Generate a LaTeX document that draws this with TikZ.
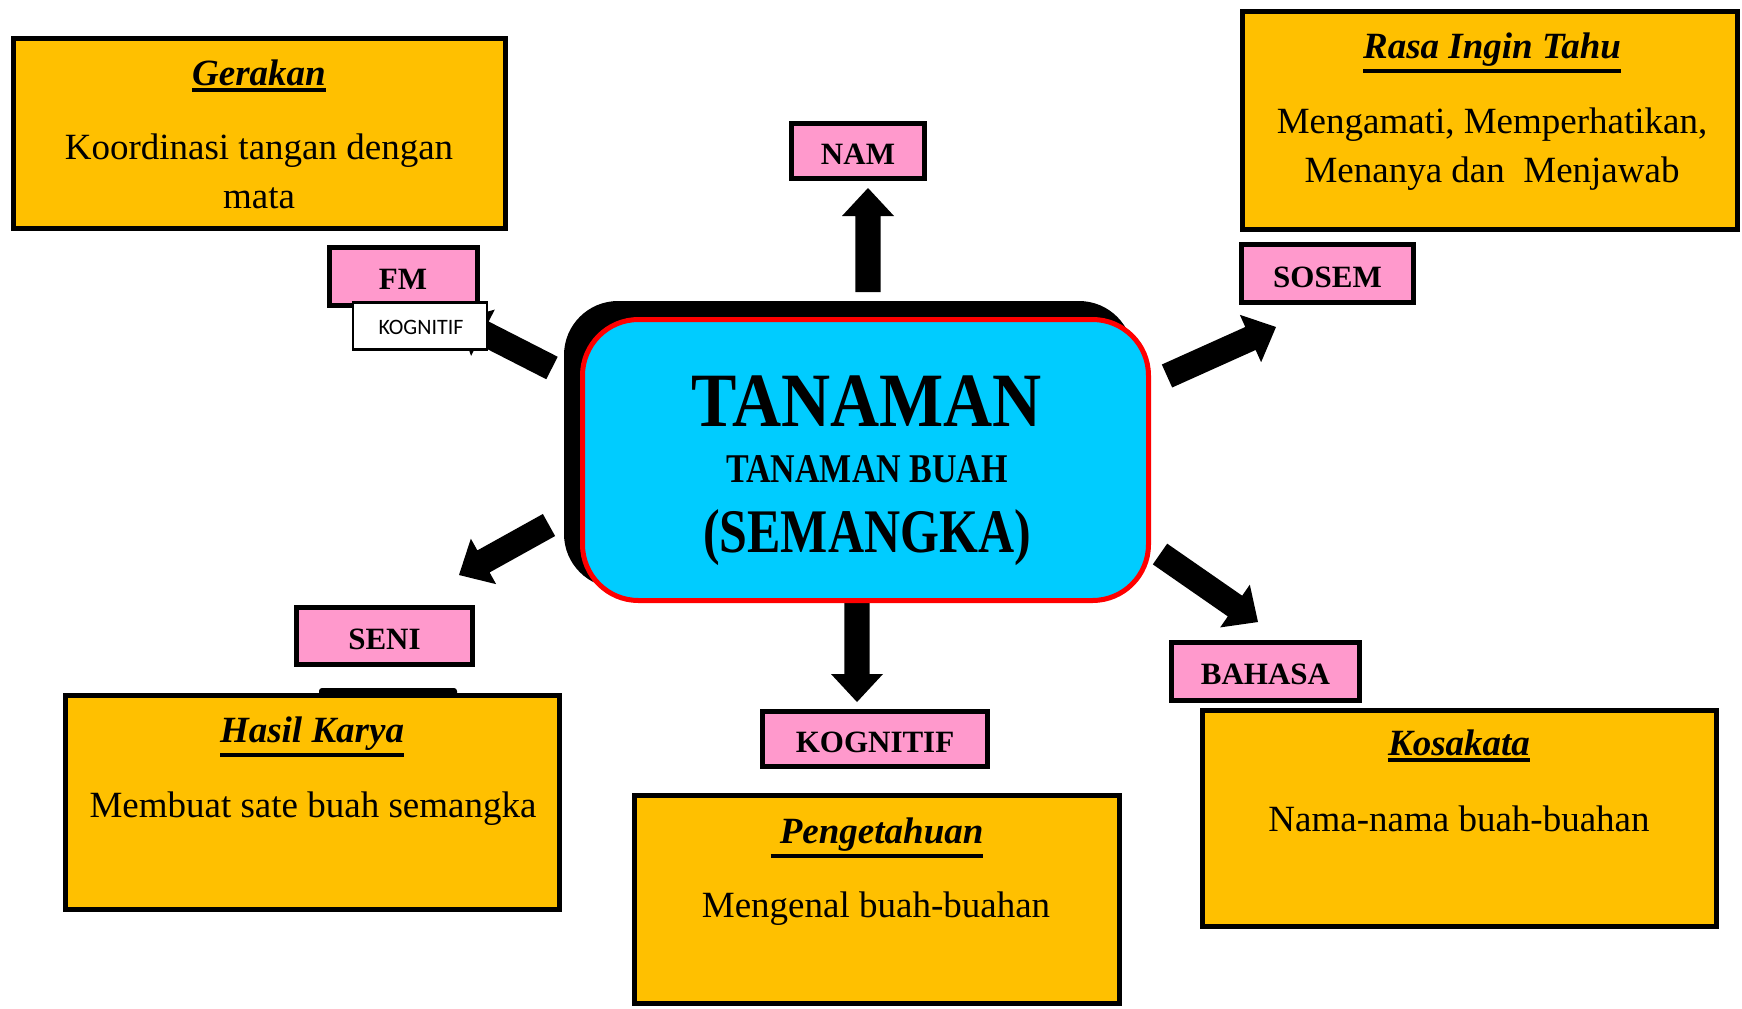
\documentclass[tikz,border=0pt]{standalone}
\usepackage{fontspec}
\setmainfont{Liberation Serif}
\newfontfamily\calib{Carlito}
\usetikzlibrary{calc}
\definecolor{gold}{HTML}{FFC000}
\definecolor{pinkl}{HTML}{FF99CC}
\definecolor{cyanc}{HTML}{00CCFF}
\newcommand\ultitle[1]{\setbox0\hbox{\bfseries\itshape #1}\vtop{\copy0\kern1.5pt\hrule height 2pt width \wd0}}
% block arrow from tail coordinate #1 to tip coordinate #2
\newcommand\blockarrow[2]{%
  \coordinate (#2hb) at ($(#2)!14pt!(#1)$);
  \fill ($(#1)!6.3pt!90:(#2)$) -- ($(#2hb)!6.3pt!90:(#2)$) -- ($(#2hb)!13pt!90:(#2)$) -- (#2)
     -- ($(#2hb)!13pt!-90:(#2)$) -- ($(#2hb)!6.3pt!-90:(#2)$) -- ($(#1)!6.3pt!-90:(#2)$) -- cycle;}
\tikzset{
  goldbox/.style={draw=black, line width=2.5pt, fill=gold, inner sep=0pt},
  pinkbox/.style={draw=black, line width=2.5pt, fill=pinkl, inner sep=0pt},
  bodytxt/.style={font=\fontsize{18.5}{22}\selectfont, anchor=base, inner sep=0pt},
  ttltxt/.style={font=\fontsize{18.5}{22}\selectfont, anchor=base, inner sep=0pt},
  lbltxt/.style={font=\fontsize{15.5}{18}\selectfont\bfseries, anchor=base, inner sep=0pt},
}
\begin{document}
\begin{tikzpicture}[x=0.5pt, y=-0.5pt]
\path[use as bounding box, fill=white] (0,0) rectangle (1742,1008);

% ---------- arrows ----------
\coordinate (namT) at (868,292);  \coordinate (namH) at (868,188);
\coordinate (kogT) at (857,600);  \coordinate (kogH) at (857,702);
\coordinate (sosT) at (1167,376); \coordinate (sosH) at (1276,327);
\coordinate (bahT) at (1160,554); \coordinate (bahH) at (1258,622);
\coordinate (senT) at (549,525);  \coordinate (senH) at (459,575);
\coordinate (fmT)  at (552,368);  \coordinate (fmH)  at (458,320);
\blockarrow{namT}{namH}
\blockarrow{kogT}{kogH}
\blockarrow{sosT}{sosH}
\blockarrow{bahT}{bahH}
\blockarrow{senT}{senH}
\blockarrow{fmT}{fmH}

% ---------- central node ----------
\node[fill=black, rounded corners=27pt, minimum width=284.5pt, minimum height=143.5pt, inner sep=0pt] (shadow) at (848.5,444.5) {};
\node[draw=red, fill=cyanc, line width=2.5pt, rounded corners=28pt, minimum width=283pt, minimum height=140.5pt, inner sep=0pt] (center) at (865.5,460) {};
\node[font=\fontsize{34}{40}\selectfont\bfseries, anchor=base, inner sep=0pt] (t1) at (867,426) {\scalebox{1}[1.13]{TANAMAN}};
\node[font=\fontsize{17}{20}\selectfont\bfseries, anchor=base, inner sep=0pt] (t2) at (867,482) {\scalebox{1}[1.2]{TANAMAN BUAH}};
\node[font=\fontsize{25}{30}\selectfont\bfseries, anchor=base, inner sep=0pt] (t3) at (867,552) {\scalebox{1}[1.24]{(SEMANGKA)}};

% ---------- gold boxes ----------
\node[goldbox, minimum width=246pt, minimum height=95pt] (ger) at (259.5,133.5) {};
\node[ttltxt] (gerT) at (259,85) {\ultitle{Gerakan}};
\node[bodytxt] (ger1) at (259,159) {Koordinasi tangan dengan};
\node[bodytxt] (ger2) at (259,208) {mata};

\node[goldbox, minimum width=247.5pt, minimum height=109pt] (rasa) at (1490,120) {};
\node[ttltxt] (rasaT) at (1492,58) {\ultitle{Rasa Ingin Tahu}};
\node[bodytxt] (rasa1) at (1492,133) {Mengamati, Memperhatikan,};
\node[bodytxt] (rasa2) at (1492,182) {Menanya dan\ \ Menjawab};

\node[goldbox, minimum width=247pt, minimum height=107pt] (hasil) at (312.5,802.5) {};
\node[ttltxt] (hasilT) at (312,742) {\ultitle{Hasil Karya}};
\node[bodytxt] (hasil1) at (313,817) {Membuat sate buah semangka};

\node[goldbox, minimum width=242.5pt, minimum height=104pt] (peng) at (877,899.5) {};
\node[ttltxt] (pengT) at (877,843) {\ultitle{\ Pengetahuan}};
\node[bodytxt] (peng1) at (876,917) {Mengenal buah-buahan};

\node[goldbox, minimum width=257pt, minimum height=108pt] (kosa) at (1459.5,818.5) {};
\node[ttltxt] (kosaT) at (1459,755) {\ultitle{Kosakata}};
\node[bodytxt] (kosa1) at (1459,831) {Nama-nama buah-buahan};

% small bar above Hasil Karya
\fill[black, rounded corners=1.5pt] (319,688) rectangle (457,696);

% ---------- pink labels ----------
\node[pinkbox, minimum width=66.5pt, minimum height=27.5pt] (nam) at (858,151) {};
\node[lbltxt] (namL) at (858,164) {NAM};
\node[pinkbox, minimum width=86pt, minimum height=29pt] (sosem) at (1327.5,273.5) {};
\node[lbltxt] (sosemL) at (1327.5,287) {SOSEM};
\node[pinkbox, minimum width=74pt, minimum height=29pt] (fm) at (403.5,276.5) {};
\node[lbltxt] (fmL) at (403,289) {FM};
\node[pinkbox, minimum width=88pt, minimum height=28.5pt] (seni) at (384.5,636) {};
\node[lbltxt] (seniL) at (384.5,649) {SENI};
\node[pinkbox, minimum width=112.5pt, minimum height=27.5pt] (kog) at (875,739) {};
\node[lbltxt] (kogL) at (875,752) {KOGNITIF};
\node[pinkbox, minimum width=94pt, minimum height=29pt] (bahasa) at (1265.5,671.5) {};
\node[lbltxt] (bahasaL) at (1265.5,684) {BAHASA};

% ---------- callout ----------
\node[draw=black, fill=white, line width=1.2pt, minimum width=67pt, minimum height=23.5pt, inner sep=0pt] (call) at (420,326) {};
\node[font=\calib\fontsize{11}{13}\selectfont, anchor=base, inner sep=0pt] (callL) at (421,334) {KOGNITIF};
\end{tikzpicture}
\end{document}
